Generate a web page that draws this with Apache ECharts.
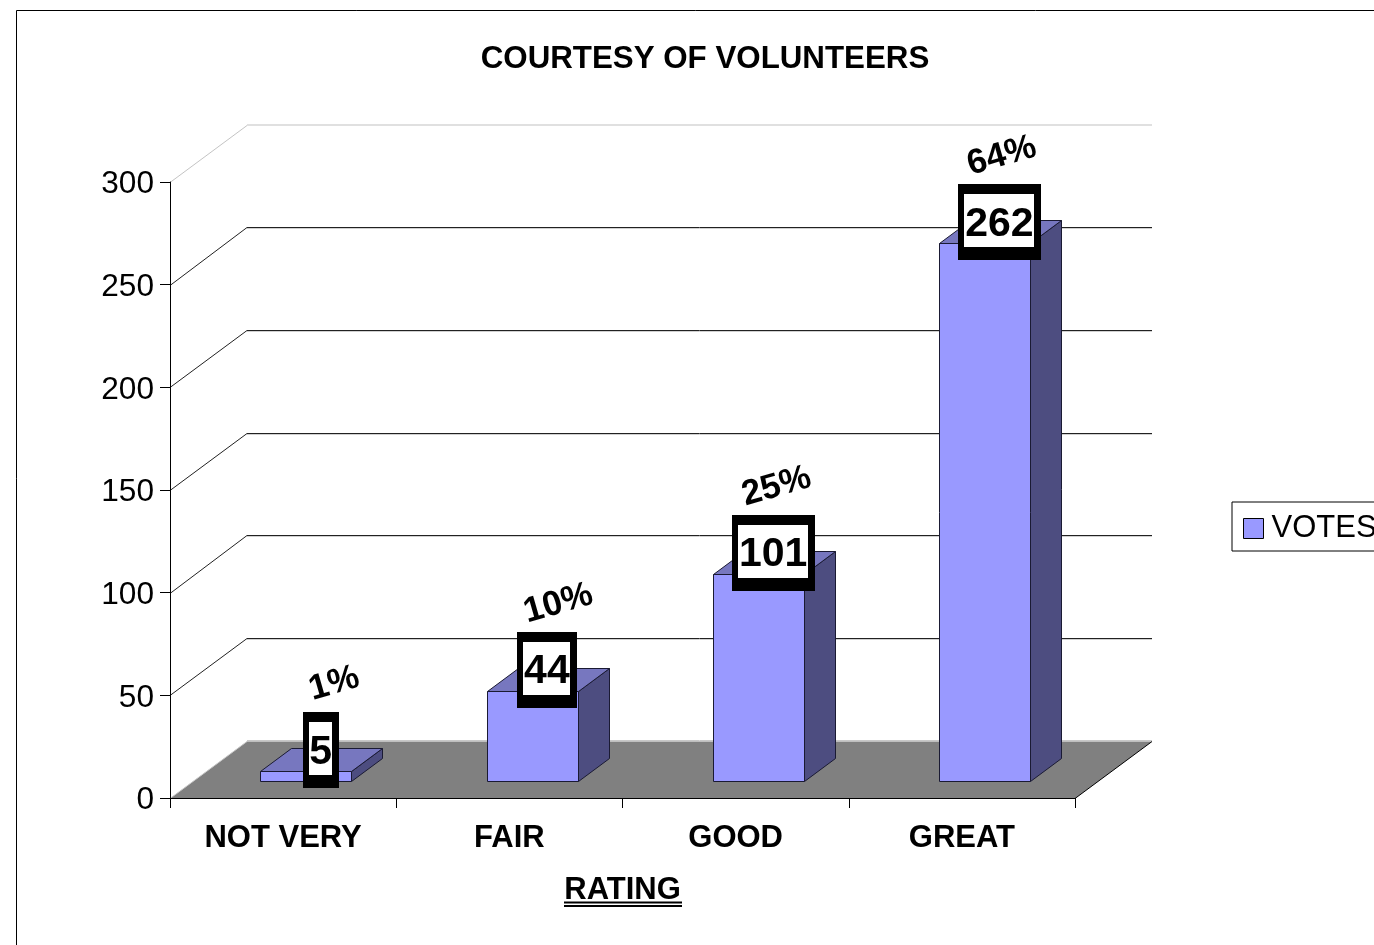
<!DOCTYPE html>
<html>
<head>
<meta charset="utf-8">
<title>Courtesy of volunteers</title>
<script src="https://cdn.jsdelivr.net/npm/echarts@6/dist/echarts.min.js"></script>
<style>
  html, body { margin: 0; padding: 0; background: #fff; overflow: hidden; }
  #chart { width: 1374px; height: 945px; }
</style>
</head>
<body>
<div id="chart"></div>
<script>
var categories = ['NOT VERY', 'FAIR', 'GOOD', 'GREAT'];
var votes = [5, 44, 101, 262];
var percents = ['1%', '10%', '25%', '64%'];
var wallTicks = [0, 50, 100, 150, 200, 250, 300];

var FONT = '"Liberation Sans", Arial, sans-serif';

// fake 3D depth, in pixels
var wallDx = 77, wallDy = -57;
var barOffX = 22.5, barOffY = -17;
var barDx = 31, barDy = -23;
// the rotated percent labels do not sit at the same spot on each bar
var pctNudge = [28, 26, 18, 17];

var chart = echarts.init(document.getElementById('chart'), null, { renderer: 'canvas' });

// floor and back wall
function renderWall(params, api) {
  var v = api.value(0);
  var rect = params.coordSys;
  var raw = api.coord([0, v])[1];
  var y = Math.round(raw) + 0.5;
  var backY = Math.round(raw + wallDy - 0.5) + 0.5;
  var x0 = rect.x, x1 = rect.x + rect.width;
  var children = [];

  if (v === 0) {
    children.push({
      type: 'polygon',
      shape: { points: [[x0, y], [x0 + wallDx, backY], [x1 + wallDx, backY], [x1, y]] },
      style: { fill: '#808080' }
    });
    children.push({ type: 'line', shape: { x1: x0, y1: y, x2: x0 + wallDx, y2: backY }, style: { stroke: '#c8c8c8', lineWidth: 1 } });
    children.push({ type: 'line', shape: { x1: x0 + wallDx, y1: backY - 1, x2: x1 + wallDx, y2: backY - 1 }, style: { stroke: '#c8c8c8', lineWidth: 1 } });
    children.push({ type: 'line', shape: { x1: x1, y1: y, x2: x1 + wallDx, y2: backY }, style: { stroke: '#000', lineWidth: 1 } });
  } else if (v === 300) {
    children.push({ type: 'line', shape: { x1: x0, y1: y, x2: x0 + wallDx, y2: backY }, style: { stroke: '#c4c4c4', lineWidth: 1 } });
    children.push({ type: 'line', shape: { x1: x0 + wallDx, y1: backY - 0.5, x2: x1 + wallDx, y2: backY - 0.5 }, style: { stroke: '#e0e0e0', lineWidth: 2 } });
  } else {
    children.push({
      type: 'polyline',
      shape: { points: [[x0, y], [x0 + wallDx, backY], [x1 + wallDx, backY]] },
      style: { stroke: '#222', lineWidth: 1, fill: null }
    });
    children.push({
      type: 'line',
      shape: { x1: x0 + wallDx, y1: backY + 1, x2: x1 + wallDx, y2: backY + 1 },
      style: { stroke: '#d0d0d0', lineWidth: 1 }
    });
  }
  return { type: 'group', children: children };
}

function renderBar(params, api) {
  var idx = api.value(0);
  var base = api.coord([idx, 0]);
  var head = api.coord([idx, api.value(1)]);
  var w = api.size([1, 0])[0] * 0.4;
  var l = Math.round(base[0] + barOffX - w / 2) + 0.5;
  var r = l + Math.round(w);
  var b = Math.round(base[1] + barOffY) + 0.5;
  var t = Math.round(head[1] + barOffY) + 0.5;
  var edge = { stroke: '#1a1a33', lineWidth: 1, lineJoin: 'round' };
  return {
    type: 'group',
    children: [
      {
        type: 'polygon',
        shape: { points: [[r, b], [r + barDx, b + barDy], [r + barDx, t + barDy], [r, t]] },
        style: Object.assign({ fill: '#4d4d80' }, edge)
      },
      {
        type: 'polygon',
        shape: { points: [[l, t], [l + barDx, t + barDy], [r + barDx, t + barDy], [r, t]] },
        style: Object.assign({ fill: '#7777bf' }, edge)
      },
      {
        type: 'rect',
        shape: { x: l, y: t, width: r - l, height: b - t },
        style: Object.assign({ fill: '#9999ff' }, edge)
      }
    ]
  };
}

// value box and rotated percent above each bar
function renderLabels(params, api) {
  var idx = api.value(0);
  var head = api.coord([idx, api.value(1)]);
  var cx = head[0] + 23 + 14.5;
  var cy = head[1] + barOffY - 22.5;
  var text = String(votes[idx]);
  var innerW = [23, 47, 70][text.length - 1];
  var innerH = 53;
  return {
    type: 'group',
    children: [
      {
        type: 'rect',
        shape: { x: Math.round(cx - innerW / 2) - 6, y: Math.round(cy - innerH / 2) - 10, width: innerW + 13, height: innerH + 23 },
        style: { fill: '#000' }
      },
      {
        type: 'rect',
        shape: { x: Math.round(cx - innerW / 2), y: Math.round(cy - innerH / 2), width: innerW, height: innerH },
        style: { fill: '#fff' }
      },
      {
        type: 'text',
        x: cx,
        y: cy + 4,
        style: { text: text, font: 'bold 41px ' + FONT, fill: '#000', textAlign: 'center', textVerticalAlign: 'middle' }
      },
      {
        type: 'text',
        x: head[0] + 23 + pctNudge[idx],
        y: head[1] + barOffY - 87,
        rotation: 16 * Math.PI / 180,
        style: { text: percents[idx], font: 'bold 35px ' + FONT, fill: '#000', textAlign: 'center', textVerticalAlign: 'middle' }
      }
    ]
  };
}

chart.setOption({
  animation: false,
  backgroundColor: '#fff',
  textStyle: { fontFamily: FONT },
  title: {
    text: 'COURTESY OF VOLUNTEERS',
    left: 700,
    top: 39,
    textAlign: 'center',
    textStyle: { fontFamily: FONT, fontSize: 31.3, fontWeight: 'bold', color: '#000' }
  },
  legend: {
    left: 1232,
    top: 502,
    orient: 'horizontal',
    padding: [11, 20, 7, 11],
    borderColor: '#000',
    borderWidth: 1,
    borderRadius: 0,
    itemWidth: 20,
    itemHeight: 20,
    itemGap: 0,
    selectedMode: false,
    data: [{ name: 'VOTES', icon: 'rect', itemStyle: { color: '#9999ff', borderColor: '#000', borderWidth: 1 } }],
    textStyle: { fontFamily: FONT, fontSize: 31, color: '#000', padding: [0, 0, 0, 3] }
  },
  grid: { left: 170, top: 182, width: 905, height: 616, containLabel: false },
  xAxis: {
    type: 'category',
    data: categories,
    name: 'RATING',
    nameLocation: 'middle',
    nameGap: 77,
    nameTextStyle: { fontFamily: FONT, fontSize: 31, fontWeight: 'bold', color: '#000' },
    axisLine: { show: true, lineStyle: { color: '#000', width: 1 } },
    axisTick: { show: true, alignWithLabel: false, inside: false, length: 10, lineStyle: { color: '#000', width: 1 } },
    axisLabel: { fontFamily: FONT, fontSize: 31, fontWeight: 'bold', color: '#000', margin: 25 },
    z: 10
  },
  yAxis: {
    type: 'value',
    min: 0,
    max: 300,
    interval: 50,
    axisLine: { show: true, lineStyle: { color: '#000', width: 1 } },
    axisTick: { show: true, inside: false, length: 10, lineStyle: { color: '#000', width: 1 } },
    axisLabel: {
      margin: 16,
      formatter: function (v) { return '{n|' + v + '}'; },
      rich: { n: { fontFamily: FONT, fontSize: 31.6, color: '#000', padding: [5, 0, 0, 0] } }
    },
    splitLine: { show: false },
    z: 10
  },
  graphic: [
    // outer chart frame runs off the page on the right and bottom
    { type: 'rect', z: -1, shape: { x: 16.5, y: 10.5, width: 2000, height: 2000 }, style: { fill: 'none', stroke: '#000', lineWidth: 1 } },
    // double underline under the axis name
    { type: 'line', shape: { x1: 564, y1: 902.5, x2: 682, y2: 902.5 }, style: { stroke: '#000', lineWidth: 2 } },
    { type: 'line', shape: { x1: 564, y1: 906, x2: 682, y2: 906 }, style: { stroke: '#000', lineWidth: 2 } }
  ],
  series: [
    {
      name: 'walls',
      type: 'custom',
      coordinateSystem: 'cartesian2d',
      silent: true,
      z: 1,
      encode: { y: 0 },
      renderItem: renderWall,
      data: wallTicks.map(function (t) { return [t]; })
    },
    {
      name: 'VOTES',
      type: 'custom',
      coordinateSystem: 'cartesian2d',
      z: 2,
      itemStyle: { color: '#9999ff' },
      encode: { x: 0, y: 1 },
      renderItem: renderBar,
      data: votes.map(function (v, i) { return [i, v]; })
    },
    {
      name: 'labels',
      type: 'custom',
      coordinateSystem: 'cartesian2d',
      silent: true,
      z: 3,
      encode: { x: 0, y: 1 },
      renderItem: renderLabels,
      data: votes.map(function (v, i) { return [i, v]; })
    }
  ]
});
</script>
</body>
</html>
